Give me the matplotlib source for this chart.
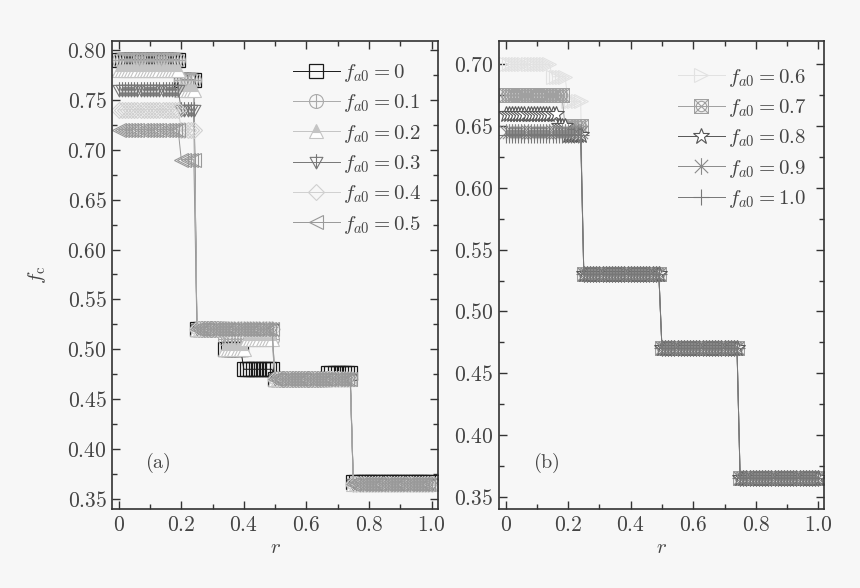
import numpy as np
import matplotlib
matplotlib.use('Agg')
import matplotlib.pyplot as plt
from matplotlib.path import Path
from matplotlib.ticker import MultipleLocator, FuncFormatter

plt.rcParams['mathtext.fontset'] = 'cm'

# sampling of r used in the figure (one marker every 0.01)
r = np.round(np.arange(101) * 0.01, 2)

# panel (a): f_a0 = 0 ... 0.5, piecewise levels (start of each level, level)
a_labels = ['0', '0.1', '0.2', '0.3', '0.4', '0.5']
a_starts = [
    [0, 0.20, 0.25, 0.34, 0.40, 0.50, 0.67, 0.75],
    [0, 0.20, 0.25, 0.34, 0.50, 0.75],
    [0, 0.20, 0.25, 0.34, 0.41, 0.50, 0.75],
    [0, 0.20, 0.25, 0.50, 0.75],
    [0, 0.20, 0.25, 0.50, 0.75],
    [0, 0.20, 0.25, 0.50, 0.75],
]
a_levels = [
    [0.79, 0.77, 0.52, 0.50, 0.48, 0.47, 0.476, 0.367],
    [0.79, 0.77, 0.52, 0.51, 0.47, 0.365],
    [0.78, 0.76, 0.52, 0.50, 0.51, 0.47, 0.365],
    [0.76, 0.74, 0.52, 0.47, 0.365],
    [0.74, 0.72, 0.52, 0.47, 0.365],
    [0.72, 0.69, 0.52, 0.47, 0.365],
]

# panel (b): f_a0 = 0.6 ... 1.0
b_labels = ['0.6', '0.7', '0.8', '0.9', '1.0']
b_starts = [
    [0, 0.15, 0.20, 0.25, 0.50, 0.75],
    [0, 0.19, 0.25, 0.50, 0.75],
    [0, 0.17, 0.20, 0.25, 0.50, 0.75],
    [0, 0.25, 0.50, 0.75],
    [0, 0.25, 0.50, 0.75],
]
b_levels = [
    [0.70, 0.69, 0.67, 0.53, 0.47, 0.365],
    [0.675, 0.65, 0.53, 0.47, 0.365],
    [0.66, 0.65, 0.643, 0.53, 0.47, 0.365],
    [0.645, 0.53, 0.47, 0.365],
    [0.643, 0.53, 0.47, 0.365],
]


def steps(starts, levels):
    idx = np.searchsorted(starts, r, side='right') - 1
    return np.array(levels)[idx]


def seg(p0, p1):
    return Path([p0, p1], [Path.MOVETO, Path.LINETO])


circle_plus = Path.make_compound_path(Path.unit_circle(), seg((-1, 0), (1, 0)), seg((0, -1), (0, 1)))
sq = Path([(-1, -1), (1, -1), (1, 1), (-1, 1), (-1, -1)], closed=True)
square_x = Path.make_compound_path(sq, Path.unit_circle().transformed(matplotlib.transforms.Affine2D().scale(0.75)),
                                   seg((-1, -1), (1, 1)), seg((-1, 1), (1, -1)))
tri_down = Path([(-1, 0.8), (1, 0.8), (0, -1), (-1, 0.8)], closed=True)
tri_down_bar = Path.make_compound_path(tri_down, seg((0, 1.3), (0, -1)))
asterisk = Path.make_compound_path(seg((0, -1), (0, 1)), seg((-0.8, -0.8), (0.8, 0.8)), seg((-0.8, 0.8), (0.8, -0.8)))

a_styles = [
    dict(color='#1a1a1a', marker='s', mfc='none', ms=10, mew=0.9),
    dict(color='#aaaaaa', marker=circle_plus, mfc='none', ms=10, mew=0.8),
    dict(color='#c4c4c4', marker='^', mfc='#c4c4c4', mfcalt='white', fillstyle='top', ms=10, mew=0.8),
    dict(color='#777777', marker=tri_down_bar, mfc='none', ms=12, mew=0.8),
    dict(color='#d0d0d0', marker='D', mfc='none', ms=8, mew=0.8),
    dict(color='#999999', marker='<', mfc='none', ms=10, mew=0.8),
]
b_styles = [
    dict(color='#e2e2e2', marker='>', mfc='none', ms=10, mew=0.8),
    dict(color='#a0a0a0', marker=square_x, mfc='none', ms=10, mew=0.8),
    dict(color='#555555', marker='*', mfc='white', ms=12, mew=0.8),
    dict(color='#8a8a8a', marker=asterisk, mfc='none', ms=12, mew=0.8),
    dict(color='#777777', marker='+', mfc='none', ms=12, mew=0.8),
]

bg = '#f7f7f7'
txt = '#444444'
fig = plt.figure(figsize=(8.6, 5.88), dpi=100, facecolor=bg)
ax1 = fig.add_axes([0.1306, 0.1344, 0.3785, 0.7959])
ax2 = fig.add_axes([0.5802, 0.1344, 0.3785, 0.7959])

for lab, st, lv, sty in zip(a_labels, a_starts, a_levels, a_styles):
    ax1.plot(r, steps(st, lv), lw=0.7, label=r'$f_{a0}=' + lab + '$', **sty)
for lab, st, lv, sty in zip(b_labels, b_starts, b_levels, b_styles):
    ax2.plot(r, steps(st, lv), lw=0.7, label=r'$f_{a0}=' + lab + '$', **sty)

ax1.set_xlim(-0.0205, 1.0201)
ax1.set_ylim(0.340, 0.809)
ax2.set_xlim(-0.0214, 1.0198)
ax2.set_ylim(0.340, 0.719)

for ax in (ax1, ax2):
    ax.set_facecolor(bg)
    ax.xaxis.set_major_locator(MultipleLocator(0.2))
    ax.xaxis.set_minor_locator(MultipleLocator(0.1))
    ax.yaxis.set_major_locator(MultipleLocator(0.05))
    ax.yaxis.set_minor_locator(MultipleLocator(0.025))
    ax.xaxis.set_major_formatter(FuncFormatter(lambda v, p: '$0$' if abs(v) < 1e-9 else '$%.1f$' % v))
    ax.yaxis.set_major_formatter(FuncFormatter(lambda v, p: '$%.2f$' % v))
    ax.tick_params(which='both', direction='in', top=True, right=True, colors='#333333',
                   labelcolor=txt, labelsize=15.5)
    ax.tick_params(which='major', length=6, width=1, pad=4)
    ax.tick_params(which='minor', length=3.5, width=1)
    for s in ax.spines.values():
        s.set_color('#333333')
        s.set_linewidth(1.2)
    ax.set_xlabel('$r$', fontsize=15, color=txt, labelpad=2)
    leg = ax.legend(loc='upper left', frameon=False, fontsize=15, handlelength=2.25,
                    handletextpad=0.15, labelspacing=0.4, borderpad=0, borderaxespad=0,
                    bbox_to_anchor=(0.555, 0.955) if ax is ax1 else (0.55, 0.945))
    for t in leg.get_texts():
        t.set_color(txt)

ax1.set_ylabel(r'$f_{\rm c}$', fontsize=15, color=txt, labelpad=14)
ax1.text(0.126, 0.386, r'$\mathrm{(a)}$', fontsize=14.5, color=txt, ha='center', va='center')
ax2.text(0.132, 0.377, r'$\mathrm{(b)}$', fontsize=14.5, color=txt, ha='center', va='center')

fig.savefig('out.png', dpi=100, facecolor=bg)
